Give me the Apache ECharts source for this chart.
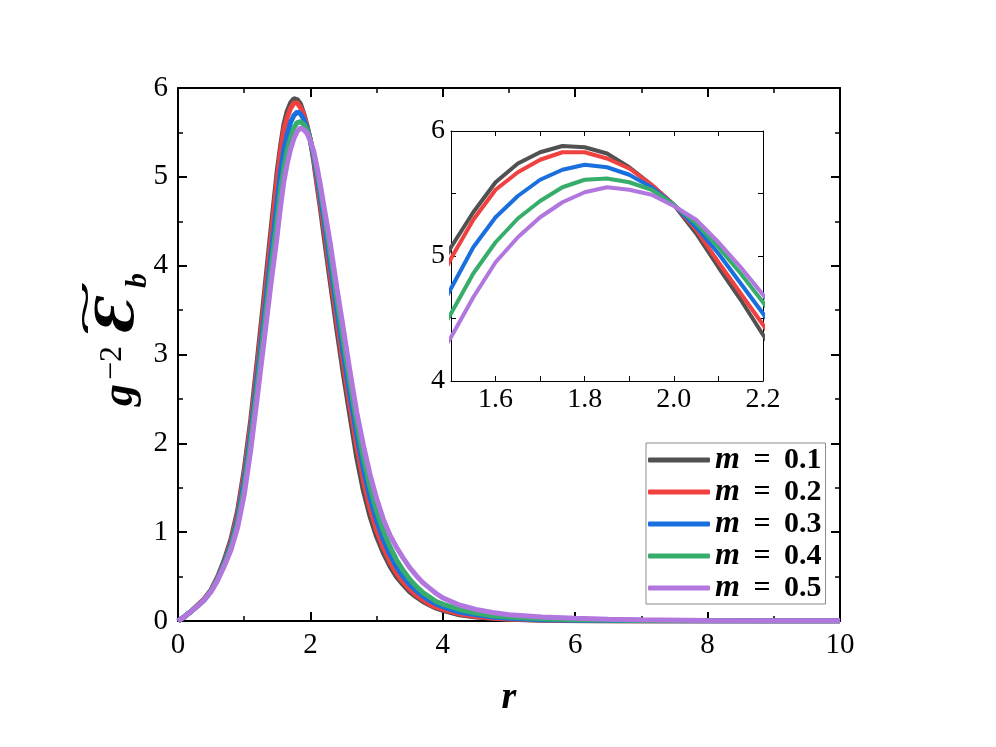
<!DOCTYPE html>
<html>
<head>
<meta charset="utf-8">
<script src="https://cdn.jsdelivr.net/npm/echarts@6/dist/echarts.min.js"></script>
<style>
  html, body { margin: 0; padding: 0; background: #fff; }
  #chart { width: 996px; height: 747px; }
</style>
</head>
<body>
<div id="chart"></div>
<script>
// r grid: 0..1.4 step 0.1, 1.5..2.2 step 0.05, 2.3..4.0 step 0.1, then the tail
const rValues = [
  0, 0.1, 0.2, 0.3, 0.4, 0.5, 0.6, 0.7, 0.8, 0.9, 1.0, 1.1, 1.2, 1.3, 1.4,
  1.5, 1.55, 1.6, 1.65, 1.7, 1.75, 1.8, 1.85, 1.9, 1.95, 2.0, 2.05, 2.1, 2.15, 2.2,
  2.3, 2.4, 2.5, 2.6, 2.7, 2.8, 2.9, 3.0, 3.1, 3.2, 3.3, 3.4, 3.5, 3.6, 3.7, 3.8, 3.9, 4.0,
  4.25, 4.5, 4.75, 5, 5.5, 6, 6.5, 7, 8, 9, 10
]

const energyM01 = [
  0, 0.05, 0.11, 0.18, 0.25, 0.35, 0.50, 0.69, 0.92, 1.24, 1.70, 2.27, 2.95, 3.65, 4.37,
  5.07, 5.35, 5.59, 5.74, 5.83, 5.88, 5.87, 5.82, 5.71, 5.57, 5.41, 5.18, 4.91, 4.65, 4.37,
  3.82, 3.28, 2.77, 2.30, 1.84, 1.47, 1.18, 0.95, 0.77, 0.62, 0.50, 0.41, 0.33, 0.27, 0.22, 0.18, 0.145, 0.12,
  0.07, 0.045, 0.03, 0.02, 0.008, 0.003, 0.001, 0.0005, 0, 0, 0
]
const energyM02 = [
  0, 0.05, 0.11, 0.18, 0.25, 0.35, 0.49, 0.67, 0.89, 1.20, 1.65, 2.21, 2.87, 3.56, 4.27,
  4.98, 5.29, 5.53, 5.67, 5.77, 5.83, 5.83, 5.78, 5.70, 5.57, 5.41, 5.21, 4.95, 4.70, 4.45,
  3.91, 3.38, 2.88, 2.41, 1.97, 1.58, 1.27, 1.02, 0.83, 0.67, 0.54, 0.44, 0.36, 0.29, 0.24, 0.19, 0.155, 0.13,
  0.08, 0.05, 0.033, 0.022, 0.01, 0.005, 0.002, 0.001, 0, 0, 0
]
const energyM03 = [
  0, 0.05, 0.11, 0.17, 0.24, 0.34, 0.48, 0.66, 0.86, 1.15, 1.58, 2.12, 2.76, 3.42, 4.09,
  4.74, 5.07, 5.31, 5.48, 5.61, 5.69, 5.73, 5.71, 5.65, 5.55, 5.41, 5.23, 5.02, 4.78, 4.54,
  4.02, 3.50, 3.00, 2.53, 2.10, 1.71, 1.39, 1.13, 0.92, 0.75, 0.61, 0.50, 0.41, 0.34, 0.28, 0.23, 0.19, 0.16,
  0.10, 0.07, 0.045, 0.03, 0.015, 0.008, 0.005, 0.003, 0.001, 0, 0
]
const energyM04 = [
  0, 0.05, 0.11, 0.17, 0.24, 0.34, 0.47, 0.64, 0.83, 1.10, 1.50, 2.03, 2.65, 3.29, 3.93,
  4.54, 4.86, 5.11, 5.30, 5.44, 5.55, 5.61, 5.62, 5.59, 5.53, 5.41, 5.26, 5.07, 4.86, 4.63,
  4.14, 3.63, 3.14, 2.67, 2.23, 1.84, 1.51, 1.24, 1.02, 0.84, 0.69, 0.57, 0.47, 0.39, 0.32, 0.27, 0.22, 0.19,
  0.13, 0.09, 0.06, 0.045, 0.025, 0.015, 0.01, 0.006, 0.003, 0.001, 0
]
const energyM05 = [
  0, 0.05, 0.11, 0.17, 0.24, 0.33, 0.46, 0.62, 0.80, 1.05, 1.42, 1.93, 2.53, 3.15, 3.77,
  4.35, 4.67, 4.95, 5.15, 5.31, 5.43, 5.51, 5.55, 5.53, 5.49, 5.40, 5.29, 5.11, 4.91, 4.69,
  4.25, 3.75, 3.28, 2.80, 2.35, 1.98, 1.65, 1.38, 1.15, 0.97, 0.83, 0.71, 0.60, 0.51, 0.43, 0.37, 0.31, 0.26,
  0.18, 0.13, 0.095, 0.07, 0.045, 0.03, 0.02, 0.014, 0.007, 0.004, 0.002
]

const mLabels = ['0.1', '0.2', '0.3', '0.4', '0.5']
const energies = [energyM01, energyM02, energyM03, energyM04, energyM05]
const colors = ['#515151', '#F14040', '#1A6FDF', '#37AD6B', '#B177DE']

const serif = 'Liberation Serif'
const black = '#000'

const frameAxis = (opts) => Object.assign({
  type: 'value',
  axisLine: {show: true, onZero: false, lineStyle: {color: black, width: 2}},
  axisTick: {show: true, inside: true, length: 9, lineStyle: {color: black, width: 2}},
  minorTick: {show: true, splitNumber: 2, length: 5, lineStyle: {color: black, width: 1.5}},
  splitLine: {show: false},
  minorSplitLine: {show: false},
  axisLabel: {show: true, color: black, fontFamily: serif, fontSize: 29, margin: 10},
}, opts)

const insetAxis = (opts) => Object.assign({
  type: 'value',
  axisLine: {show: true, onZero: false, lineStyle: {color: black, width: 1}},
  axisTick: {show: true, inside: true, length: 5, lineStyle: {color: black, width: 1}},
  splitLine: {show: false},
  axisLabel: {show: true, color: black, fontFamily: serif, fontSize: 28, margin: 8},
}, opts)

const chart = echarts.init(document.getElementById('chart'))

const mainSeries = energies.map((vals, i) => ({
  type: 'line',
  name: 'm = ' + mLabels[i],
  xAxisIndex: 0,
  yAxisIndex: 0,
  data: rValues.map((r, j) => [r, vals[j]]),
  showSymbol: false,
  symbol: 'none',
  lineStyle: {color: colors[i], width: 5},
  itemStyle: {color: colors[i]},
  z: 2 + i,
}))

const insetSeries = energies.map((vals, i) => ({
  type: 'line',
  name: 'm = ' + mLabels[i],
  xAxisIndex: 2,
  yAxisIndex: 2,
  data: rValues.map((r, j) => [r, vals[j]]),
  showSymbol: false,
  symbol: 'none',
  clip: true,
  lineStyle: {color: colors[i], width: 4},
  itemStyle: {color: colors[i]},
  z: 2 + i,
}))

chart.setOption({
  animation: false,
  backgroundColor: '#fff',
  grid: [
    {left: 178, top: 88, width: 662, height: 533},
    {left: 451, top: 131, width: 312, height: 250, show: true, backgroundColor: '#fff', borderWidth: 0},
  ],
  xAxis: [
    frameAxis({gridIndex: 0, min: 0, max: 10, interval: 2, position: 'bottom',
      name: 'r', nameLocation: 'middle', nameGap: 58,
      nameTextStyle: {fontFamily: serif, fontStyle: 'italic', fontWeight: 'bold', fontSize: 38, color: black}}),
    frameAxis({gridIndex: 0, min: 0, max: 10, interval: 2, position: 'top', axisLabel: {show: false}}),
    insetAxis({gridIndex: 1, min: 1.5, max: 2.2, interval: 0.1, position: 'bottom',
      axisLabel: {show: true, color: black, fontFamily: serif, fontSize: 28, margin: 5,
        formatter: (v) => {
          const k = Math.round(v * 10)
          return k % 2 === 0 ? (k / 10).toFixed(1) : ''
        }}}),
    insetAxis({gridIndex: 1, min: 1.5, max: 2.2, interval: 0.1, position: 'top', axisLabel: {show: false}}),
  ],
  yAxis: [
    frameAxis({gridIndex: 0, min: 0, max: 6, interval: 1, position: 'left'}),
    frameAxis({gridIndex: 0, min: 0, max: 6, interval: 1, position: 'right', axisLabel: {show: false}}),
    insetAxis({gridIndex: 1, min: 4, max: 6, interval: 0.5, position: 'left',
      axisLabel: {show: true, color: black, fontFamily: serif, fontSize: 28, margin: 6,
        formatter: (v) => (Number.isInteger(v) ? String(v) : '')}}),
    insetAxis({gridIndex: 1, min: 4, max: 6, interval: 0.5, position: 'right', axisLabel: {show: false}}),
  ],
  legend: {
    data: mLabels.map((m) => 'm = ' + m),
    orient: 'vertical',
    left: 646,
    top: 443,
    selectedMode: false,
    backgroundColor: '#fff',
    borderColor: '#8c8c8c',
    borderWidth: 1,
    borderRadius: 0,
    padding: [1, 4, 0, 2],
    itemWidth: 62,
    itemHeight: 5,
    itemGap: 0,
    icon: 'roundRect',
    formatter: (name) => '{m|m}{t|\u2009 = \u2009' + name.split('= ')[1] + '}',
    textStyle: {
      rich: {
        m: {fontFamily: serif, fontStyle: 'italic', fontWeight: 'bold', fontSize: 32, color: black},
        t: {fontFamily: serif, fontWeight: 'bold', fontSize: 30, color: black},
      },
    },
  },
  graphic: [
    {
      type: 'group',
      x: 143,
      y: 406,
      rotation: Math.PI / 2,
      children: [
        {type: 'text', x: 0, y: 0, style: {text: 'g', font: 'italic bold 44px "Liberation Serif"', fill: black, textVerticalAlign: 'bottom'}},
        {type: 'text', x: 26, y: -14, style: {text: '−2', font: '32px "Liberation Serif"', fill: black, textVerticalAlign: 'bottom'}},
        {type: 'text', x: 70, y: 2, style: {text: 'Ɛ', font: 'italic bold 52px "DejaVu Serif"', fill: black, textVerticalAlign: 'bottom'}},
        {type: 'text', x: 118, y: 10, style: {text: 'b', font: 'italic bold 30px "Liberation Serif"', fill: black, textVerticalAlign: 'bottom'}},
        {type: 'text', x: 72, y: -40, scaleX: 3.1, style: {text: '~', font: 'bold 32px "Liberation Serif"', fill: black, textVerticalAlign: 'bottom'}},
      ],
    },
  ],
  series: [...mainSeries, ...insetSeries],
})
</script>
</body>
</html>
